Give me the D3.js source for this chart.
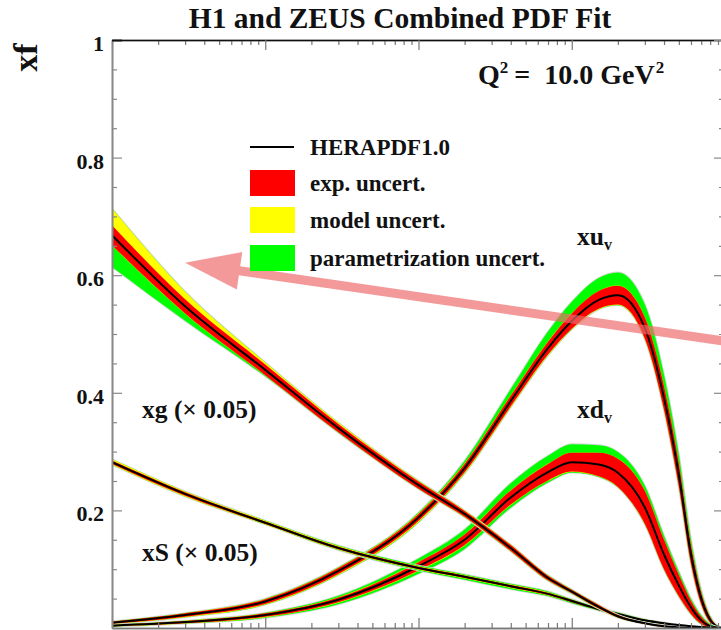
<!DOCTYPE html>
<html>
<head>
<meta charset="utf-8">
<script src="https://cdn.jsdelivr.net/npm/d3@7"></script>
<style>
  html, body { margin: 0; padding: 0; background: #fff; }
  svg { display: block; font-family: "Liberation Serif", "Times New Roman", serif; font-weight: bold; }
</style>
</head>
<body>
<svg id="chart" width="721" height="630"></svg>
<script>
// Bjorken-x grid shared by all distributions
const xGrid = [1e-4, 3e-4, 1e-3, 3e-3, 0.01, 0.02, 0.04, 0.07, 0.1, 0.15, 0.2, 0.3, 0.4, 0.5, 0.6, 0.7, 0.8, 0.9, 1.0];

// u valence
const xuvCentral = [0.009, 0.022, 0.045, 0.097, 0.188, 0.272, 0.386, 0.476, 0.522, 0.558, 0.566, 0.510, 0.391, 0.260, 0.125, 0.050, 0.014, 0.002, 0];
const xuvExp     = [0.002, 0.003, 0.004, 0.005, 0.006, 0.007, 0.009, 0.011, 0.013, 0.015, 0.016, 0.018, 0.020, 0.020, 0.016, 0.010, 0.005, 0.001, 0];
const xuvModUp   = [0.001, 0.001, 0.002, 0.002, 0.003, 0.003, 0.003, 0.003, 0.003, 0.003, 0.003, 0.003, 0.003, 0.003, 0.002, 0.001, 0.001, 0, 0];
const xuvModDn   = [0.001, 0.002, 0.003, 0.004, 0.005, 0.005, 0.005, 0.005, 0.005, 0.005, 0.005, 0.005, 0.005, 0.005, 0.004, 0.002, 0.001, 0, 0];
const xuvParUp   = [0, 0.001, 0.002, 0.003, 0.005, 0.010, 0.018, 0.026, 0.030, 0.034, 0.035, 0.036, 0.034, 0.028, 0.020, 0.010, 0.004, 0.001, 0];
const xuvParDn   = [0.001, 0.001, 0.002, 0.002, 0.003, 0.003, 0.003, 0.003, 0.003, 0.003, 0.003, 0.003, 0.003, 0.003, 0.002, 0.001, 0.001, 0, 0];

// d valence
const xdvCentral = [0.004, 0.010, 0.022, 0.048, 0.105, 0.150, 0.222, 0.265, 0.282, 0.278, 0.264, 0.205, 0.125, 0.072, 0.035, 0.013, 0.003, 0.0005, 0];
const xdvExp     = [0.001, 0.002, 0.003, 0.004, 0.007, 0.009, 0.012, 0.014, 0.016, 0.020, 0.024, 0.028, 0.025, 0.018, 0.011, 0.006, 0.002, 0.0005, 0];
const xdvModUp   = [0.001, 0.001, 0.001, 0.002, 0.002, 0.002, 0.002, 0.002, 0.002, 0.002, 0.002, 0.002, 0.002, 0.002, 0.001, 0.001, 0, 0, 0];
const xdvModDn   = [0.001, 0.001, 0.002, 0.003, 0.004, 0.004, 0.004, 0.004, 0.004, 0.004, 0.004, 0.004, 0.003, 0.002, 0.002, 0.001, 0, 0, 0];
const xdvParUp   = [0, 0.001, 0.002, 0.005, 0.011, 0.015, 0.021, 0.024, 0.026, 0.026, 0.026, 0.024, 0.020, 0.015, 0.010, 0.006, 0.003, 0.001, 0];
const xdvParDn   = [0, 0.001, 0.003, 0.006, 0.010, 0.012, 0.012, 0.010, 0.007, 0.005, 0.005, 0.006, 0.006, 0.005, 0.004, 0.003, 0.001, 0, 0];

// gluon, scaled by 0.05
const xgCentral = [0.668, 0.547, 0.439, 0.340, 0.243, 0.194, 0.136, 0.085, 0.062, 0.036, 0.020, 0.008, 0.003, 0.001, 0, 0, 0, 0, 0];
const xgExp     = [0.017, 0.012, 0.009, 0.007, 0.006, 0.005, 0.005, 0.004, 0.003, 0.003, 0.002, 0.001, 0.001, 0, 0, 0, 0, 0, 0];
const xgModUp   = [0.042, 0.022, 0.009, 0.006, 0.004, 0.003, 0.002, 0.002, 0.001, 0.001, 0.001, 0, 0, 0, 0, 0, 0, 0, 0];
const xgModDn   = [0.004, 0.003, 0.002, 0.002, 0.002, 0.002, 0.002, 0.001, 0.001, 0.001, 0.001, 0, 0, 0, 0, 0, 0, 0, 0];
const xgParUp   = [0, 0, 0, 0, 0.001, 0.001, 0.001, 0.001, 0.001, 0.001, 0, 0, 0, 0, 0, 0, 0, 0, 0];
const xgParDn   = [0.051, 0.021, 0.006, 0.003, 0.002, 0.002, 0.002, 0.002, 0.002, 0.001, 0.001, 0, 0, 0, 0, 0, 0, 0, 0];

// sea, scaled by 0.05
const xSCentral = [0.282, 0.228, 0.179, 0.136, 0.102, 0.087, 0.071, 0.058, 0.046, 0.032, 0.024, 0.013, 0.008, 0.005, 0.003, 0.0015, 0.0005, 0, 0];
const xSExp     = [0.003, 0.003, 0.002, 0.002, 0.002, 0.002, 0.002, 0.002, 0.002, 0.001, 0.001, 0.001, 0.001, 0, 0, 0, 0, 0, 0];
const xSModUp   = [0.004, 0.003, 0.003, 0.003, 0.002, 0.002, 0.002, 0.002, 0.001, 0.001, 0.001, 0.001, 0, 0, 0, 0, 0, 0, 0];
const xSModDn   = [0.003, 0.003, 0.002, 0.002, 0.002, 0.002, 0.002, 0.001, 0.001, 0.001, 0.001, 0, 0, 0, 0, 0, 0, 0, 0];
const xSParUp   = [0, 0, 0.001, 0.002, 0.003, 0.003, 0.003, 0.003, 0.002, 0.002, 0.002, 0.001, 0.001, 0, 0, 0, 0, 0, 0];
const xSParDn   = [0, 0, 0.001, 0.002, 0.003, 0.004, 0.004, 0.003, 0.003, 0.002, 0.002, 0.001, 0.001, 0, 0, 0, 0, 0, 0];

// axis ticks
const xMajorTicks = [1e-4, 1e-3, 1e-2, 1e-1, 1];
const yMajorTicks = [0.2, 0.4, 0.6, 0.8, 1.0];
const yTickLabels = ["0.2", "0.4", "0.6", "0.8", "1"];
const yMinorStep = 0.05;

// legend entries
const legendLabels = ["HERAPDF1.0", "exp. uncert.", "model uncert.", "parametrization uncert."];
const legendColors = ["#000000", "#ff0000", "#ffff00", "#00ff00"];

// annotation arrow (tail -> tip) in data coordinates
const arrowTail = [1.25, 0.484];
const arrowTip  = [3.0e-4, 0.621];

const svg = d3.select("#chart");
const W = 721, H = 630;
const plot = { left: 112, right: 725, top: 40, bottom: 628 };

const x = d3.scaleLog().domain([1e-4, 1]).range([plot.left, plot.right]);
const y = d3.scaleLinear().domain([0, 1]).range([plot.bottom, plot.top]);

svg.append("rect").attr("width", W).attr("height", H).attr("fill", "#fff");

svg.append("defs").append("clipPath").attr("id", "plotClip")
  .append("rect")
  .attr("x", plot.left).attr("y", plot.top)
  .attr("width", plot.right - plot.left).attr("height", plot.bottom - plot.top);

const bands = svg.append("g").attr("clip-path", "url(#plotClip)");

// combine uncertainty sources in quadrature into nested envelopes
function envelopes(c, e, mu, md, pu, pd) {
  return {
    total: xGrid.map((xv, i) => ({ x: xv,
      hi: c[i] + Math.hypot(e[i], mu[i], pu[i]),
      lo: c[i] - Math.hypot(e[i], md[i], pd[i]) })),
    model: xGrid.map((xv, i) => ({ x: xv,
      hi: c[i] + Math.hypot(e[i], mu[i]),
      lo: c[i] - Math.hypot(e[i], md[i]) })),
    exp: xGrid.map((xv, i) => ({ x: xv, hi: c[i] + e[i], lo: c[i] - e[i] })),
    line: xGrid.map((xv, i) => ({ x: xv, v: c[i] }))
  };
}

const area = d3.area()
  .x(d => x(d.x)).y0(d => y(d.lo)).y1(d => y(d.hi))
  .curve(d3.curveMonotoneX);
const line = d3.line()
  .x(d => x(d.x)).y(d => y(d.v))
  .curve(d3.curveMonotoneX);

const distributions = [
  envelopes(xuvCentral, xuvExp, xuvModUp, xuvModDn, xuvParUp, xuvParDn),
  envelopes(xdvCentral, xdvExp, xdvModUp, xdvModDn, xdvParUp, xdvParDn),
  envelopes(xSCentral, xSExp, xSModUp, xSModDn, xSParUp, xSParDn),
  envelopes(xgCentral, xgExp, xgModUp, xgModDn, xgParUp, xgParDn)
];

distributions.forEach(d => {
  const g = bands.append("g");
  // faint outline of alternative fits around the full envelope
  g.append("path").attr("d", area(d.total))
    .attr("fill", "none").attr("stroke", "#d6d6d6").attr("stroke-width", 1.8);
  g.append("path").attr("d", area(d.total)).attr("fill", legendColors[3]);
  g.append("path").attr("d", area(d.model)).attr("fill", legendColors[2]);
  g.append("path").attr("d", area(d.exp)).attr("fill", legendColors[1]);
  g.append("path").attr("d", line(d.line))
    .attr("fill", "none").attr("stroke", "#000").attr("stroke-width", 2);
});

// ---- axes (ticks point into the frame) ----
function styleAxis(g, color) {
  g.selectAll("line").attr("stroke", color).attr("stroke-width", 1.2);
  g.selectAll(".domain").attr("stroke", color).attr("stroke-width", 1.6);
  g.selectAll("text").remove();
}

const xMinorTicks = [];
for (let dec = -4; dec < 0; dec++)
  for (let m = 2; m <= 9; m++) xMinorTicks.push(m * Math.pow(10, dec));

const yMinorTicks = d3.range(0, 1.0001, yMinorStep).filter(v => !yMajorTicks.some(t => Math.abs(t - v) < 1e-6));

// top
svg.append("g").attr("transform", `translate(0,${plot.top})`)
  .call(d3.axisBottom(x).tickValues(xMinorTicks).tickSize(5).tickSizeOuter(0).tickFormat(""))
  .call(g => styleAxis(g, "#777"));
svg.append("g").attr("transform", `translate(0,${plot.top})`)
  .call(d3.axisBottom(x).tickValues(xMajorTicks).tickSize(10).tickSizeOuter(0).tickFormat(""))
  .call(g => styleAxis(g, "#777"))
  .call(g => g.select(".domain").attr("stroke", "#111"));
// bottom
svg.append("g").attr("transform", `translate(0,${plot.bottom})`)
  .call(d3.axisTop(x).tickValues(xMinorTicks).tickSize(5).tickSizeOuter(0).tickFormat(""))
  .call(g => styleAxis(g, "#777"));
svg.append("g").attr("transform", `translate(0,${plot.bottom})`)
  .call(d3.axisTop(x).tickValues(xMajorTicks).tickSize(10).tickSizeOuter(0).tickFormat(""))
  .call(g => styleAxis(g, "#777"));
// left
svg.append("g").attr("transform", `translate(${plot.left},0)`)
  .call(d3.axisRight(y).tickValues(yMinorTicks).tickSize(5).tickSizeOuter(0).tickFormat(""))
  .call(g => styleAxis(g, "#888"));
svg.append("g").attr("transform", `translate(${plot.left},0)`)
  .call(d3.axisRight(y).tickValues(yMajorTicks).tickSize(10).tickSizeOuter(0).tickFormat(""))
  .call(g => styleAxis(g, "#888"))
  .call(g => g.selectAll(".tick line").filter(d => d === 1).attr("stroke", "#111").attr("stroke-width", 1.8));
// right
svg.append("g").attr("transform", `translate(${plot.right},0)`)
  .call(d3.axisLeft(y).tickValues(yMinorTicks).tickSize(6).tickSizeOuter(0).tickFormat(""))
  .call(g => styleAxis(g, "#888"));
svg.append("g").attr("transform", `translate(${plot.right},0)`)
  .call(d3.axisLeft(y).tickValues(yMajorTicks).tickSize(11).tickSizeOuter(0).tickFormat(""))
  .call(g => styleAxis(g, "#888"));

// y tick labels
svg.append("g").selectAll("text").data(yMajorTicks).join("text")
  .attr("x", 104).attr("y", d => y(d) + 11)
  .attr("text-anchor", "end").attr("font-size", 22).attr("fill", "#111")
  .text((d, i) => yTickLabels[i]);

// ---- annotation arrow ----
{
  const tx = x(arrowTip[0]), ty = y(arrowTip[1]);
  const sx = x(arrowTail[0]), sy = y(arrowTail[1]);
  const len = Math.hypot(sx - tx, sy - ty);
  const ux = (sx - tx) / len, uy = (sy - ty) / len;
  const headLen = 55, headHalf = 19;
  const bx = tx + ux * headLen, by = ty + uy * headLen;
  const g = svg.append("g").attr("opacity", 0.68);
  g.append("line")
    .attr("x1", sx).attr("y1", sy).attr("x2", bx - ux * 2).attr("y2", by - uy * 2)
    .attr("stroke", "#f06a6a").attr("stroke-width", 9);
  g.append("polygon")
    .attr("points", [[tx, ty], [bx - uy * headHalf, by + ux * headHalf], [bx + uy * headHalf, by - ux * headHalf]].map(p => p.join(",")).join(" "))
    .attr("fill", "#f06a6a");
}

// ---- texts ----
svg.append("text").attr("x", 400).attr("y", 28)
  .attr("text-anchor", "middle").attr("font-size", 29.5).attr("fill", "#111")
  .text("H1 and ZEUS Combined PDF Fit");

svg.append("text").attr("transform", "translate(37,57.5) rotate(-90)")
  .attr("text-anchor", "middle").attr("font-size", 34).attr("fill", "#111")
  .text("xf");

{
  const q = svg.append("text").attr("x", 478).attr("y", 84)
    .attr("font-size", 28).attr("fill", "#111").style("white-space", "pre");
  q.append("tspan").text("Q");
  q.append("tspan").attr("dy", -11).attr("font-size", 17).text("2");
  q.append("tspan").attr("dy", 11).attr("dx", 6).text("=  10.0 GeV");
  q.append("tspan").attr("dy", -11).attr("dx", 1).attr("font-size", 17).text("2");
}

// legend
{
  const g = svg.append("g");
  const rows = [147, 183, 220, 258];
  g.append("line").attr("x1", 250).attr("x2", 294).attr("y1", rows[0]).attr("y2", rows[0])
    .attr("stroke", legendColors[0]).attr("stroke-width", 2);
  for (let i = 1; i < 4; i++) {
    g.append("rect").attr("x", 250).attr("y", rows[i] - 13).attr("width", 45).attr("height", 26)
      .attr("fill", legendColors[i]);
  }
  g.selectAll("text").data(legendLabels).join("text")
    .attr("x", 310).attr("y", (d, i) => rows[i] + 8)
    .attr("font-size", 23).attr("fill", "#111")
    .text(d => d);
}

// curve labels
function labelWithSub(px, py, main, sub) {
  const t = svg.append("text").attr("x", px).attr("y", py).attr("font-size", 25.5).attr("fill", "#111");
  t.append("tspan").text(main);
  t.append("tspan").attr("dy", 5).attr("font-size", 16).text(sub);
}
labelWithSub(577, 245, "xu", "v");
labelWithSub(577, 418, "xd", "v");
svg.append("text").attr("x", 142).attr("y", 418).attr("font-size", 25.5).attr("fill", "#111").text("xg (× 0.05)");
svg.append("text").attr("x", 142).attr("y", 561).attr("font-size", 25.5).attr("fill", "#111").text("xS (× 0.05)");
</script>
</body>
</html>
